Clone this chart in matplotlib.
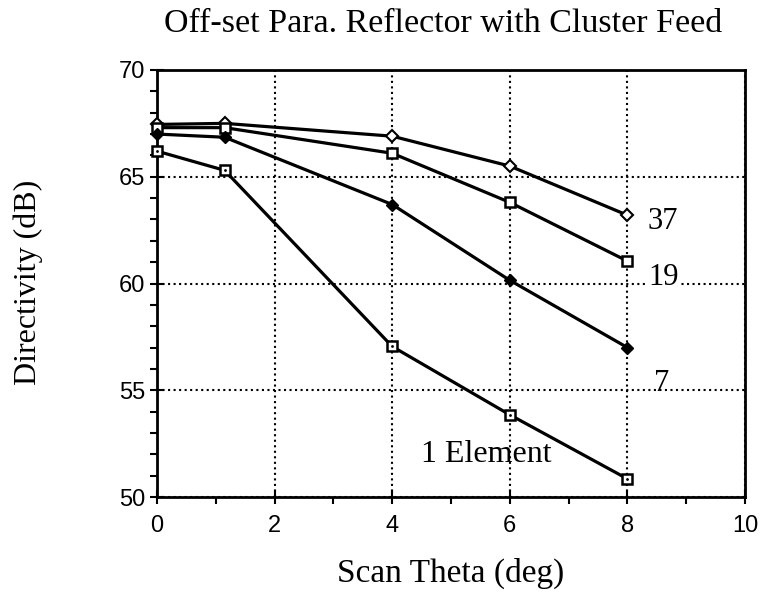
import matplotlib.pyplot as plt
from matplotlib.ticker import MultipleLocator

# scan angle (deg) and directivity (dB) per feed size
theta = [0, 1.15, 4, 6, 8]
d_37 = [67.45, 67.5, 66.9, 65.5, 63.2]
d_19 = [67.3, 67.3, 66.1, 63.8, 61.05]
d_7 = [67.0, 66.85, 63.7, 60.15, 57.0]
d_1 = [66.2, 65.3, 57.05, 53.85, 50.85]

serif = 'Liberation Serif'
sans = 'Liberation Sans'

W, H = 766, 602
fig = plt.figure(figsize=(W / 100, H / 100), dpi=100)
ax = fig.add_axes([157 / W, 1 - 497 / H, (745 - 157) / W, (497 - 70) / H])

kw = dict(color='black', lw=2.3, clip_on=False, zorder=3)
ax.plot(theta, d_37, marker='D', ms=6, mfc='white', mec='black', mew=1.5, **kw)
ax.plot(theta, d_19, marker='s', ms=7, mfc='white', mec='black', mew=1.8, **kw)
ax.plot(theta, d_7, marker='D', ms=6, mfc='black', mec='black', **kw)
ax.plot(theta, d_1, marker='s', ms=7, mfc='white', mec='black', mew=1.8, **kw)
# dot inside the "1 element" squares
ax.plot(theta, d_1, ls='none', marker='.', ms=2, color='black', clip_on=False, zorder=4)

ax.text(8.35, 62.9, '37', fontsize=22, family=serif, va='center', ha='left')
ax.text(8.35, 60.3, '19', fontsize=22, family=serif, va='center', ha='left',
        bbox=dict(facecolor='white', edgecolor='none', pad=1))
ax.text(8.45, 55.3, '7', fontsize=22, family=serif, va='center', ha='left')
ax.text(5.6, 52.0, '1 Element', fontsize=23, family=serif, va='center', ha='center')

ax.set_xlim(0, 10)
ax.set_ylim(50, 70)
ax.xaxis.set_major_locator(MultipleLocator(2))
ax.xaxis.set_minor_locator(MultipleLocator(1))
ax.yaxis.set_major_locator(MultipleLocator(5))
ax.yaxis.set_minor_locator(MultipleLocator(1))
ax.tick_params(which='major', direction='inout', length=10, width=1.5, labelsize=17)
ax.tick_params(which='minor', direction='out', length=5, width=1.5)
ax.tick_params(axis='x', pad=8)
for lab in ax.get_xticklabels() + ax.get_yticklabels():
    lab.set_family(sans)

ax.grid(True, which='major', color='black', ls=':', lw=1.5)
for s in ax.spines.values():
    s.set_linewidth(2)

fig.text(443 / W, 1 - 24 / H, 'Off-set Para. Reflector with Cluster Feed',
         family=serif, fontsize=24.5, ha='center', va='center')
ax.set_xlabel('Scan Theta (deg)', family=serif, fontsize=24)
ax.xaxis.set_label_coords(0.5, -(573 - 497) / (497 - 70))
ax.xaxis.label.set_va('center')
ax.set_ylabel('Directivity (dB)', family=serif, fontsize=23)
ax.yaxis.set_label_coords(-(157 - 28) / (745 - 157), (497 - 282) / (497 - 70))
ax.yaxis.label.set_va('center')

plt.savefig('out.png', dpi=100)
